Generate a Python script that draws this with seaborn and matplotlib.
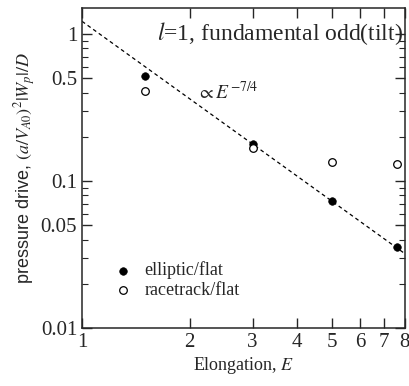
import numpy as np
import pandas as pd
import matplotlib
matplotlib.use("Agg")
import matplotlib.pyplot as plt
import seaborn as sns
from matplotlib.ticker import FixedLocator, FixedFormatter, NullFormatter, LogLocator

# data
elong = [1.5, 3.0, 5.0, 7.6]
elliptic = [0.52, 0.178, 0.073, 0.0355]
racetrack = [0.41, 0.167, 0.135, 0.13]
fit_coef = 1.22
fit_power = -7 / 4
x_ticks = [1, 2, 3, 4, 5, 6, 7, 8]
y_ticks = [0.01, 0.05, 0.1, 0.5, 1]
y_ticklabels = ["0.01", "0.05", "0.1", "0.5", "1"]

df = pd.DataFrame({
    "E": elong * 2,
    "drive": elliptic + racetrack,
    "case": ["elliptic/flat"] * len(elong) + ["racetrack/flat"] * len(elong),
})

sns.set_style("ticks")
plt.rcParams["font.family"] = ["Liberation Serif", "DejaVu Serif"]
plt.rcParams["mathtext.fontset"] = "stix"

fig = plt.figure(figsize=(4.09, 3.86), dpi=100)
ax = fig.add_axes([0.2005, 0.150, 0.7895, 0.829])

xs = np.linspace(1, 8, 50)
ax.plot(xs, fit_coef * xs ** fit_power, color="black", ls=(0, (3, 2.5)), lw=0.9)

sns.scatterplot(data=df[df.case == "elliptic/flat"], x="E", y="drive", ax=ax,
                color="black", edgecolor="black", s=30, label="elliptic/flat", zorder=3)
sns.scatterplot(data=df[df.case == "racetrack/flat"], x="E", y="drive", ax=ax,
                facecolor="white", edgecolor="black", linewidth=0.9, s=30,
                label="racetrack/flat", zorder=3)

ax.set_xscale("log")
ax.set_yscale("log")
ax.set_xlim(1, 8)
ax.set_ylim(0.01, 1.5)

ax.xaxis.set_major_locator(FixedLocator(x_ticks))
ax.xaxis.set_major_formatter(FixedFormatter([str(t) for t in x_ticks]))
ax.xaxis.set_minor_locator(FixedLocator([]))
ax.yaxis.set_major_locator(FixedLocator(y_ticks))
ax.yaxis.set_major_formatter(FixedFormatter(y_ticklabels))
ax.yaxis.set_minor_locator(LogLocator(base=10, subs=np.arange(2, 10)))
ax.yaxis.set_minor_formatter(NullFormatter())

ax.tick_params(which="both", direction="in", top=True, right=True, labelsize=15)
ax.tick_params(which="major", length=7, width=1)
ax.tick_params(which="minor", length=4, width=0.8)
for sp in ax.spines.values():
    sp.set_linewidth(1.1)

ax.set_xlabel("Elongation, $E$", fontsize=13, labelpad=2)
ax.set_ylabel(r"pressure drive, $(a/V_{A0})^2|W_p|/D$", fontsize=13,
              family=["Liberation Sans", "DejaVu Sans"], labelpad=2)
ax.text(2.1, 0.36, r"$\propto E^{-7/4}$", fontsize=14)
ax.text(7.9, 1.0, r"$l$=1, fundamental odd(tilt)", fontsize=17, ha="right", va="center")

ax.legend(loc="lower left", bbox_to_anchor=(0.02, 0.04), frameon=False,
          fontsize=13, handletextpad=0.2, labelspacing=0.15)

fig.savefig("out.png", dpi=100)
